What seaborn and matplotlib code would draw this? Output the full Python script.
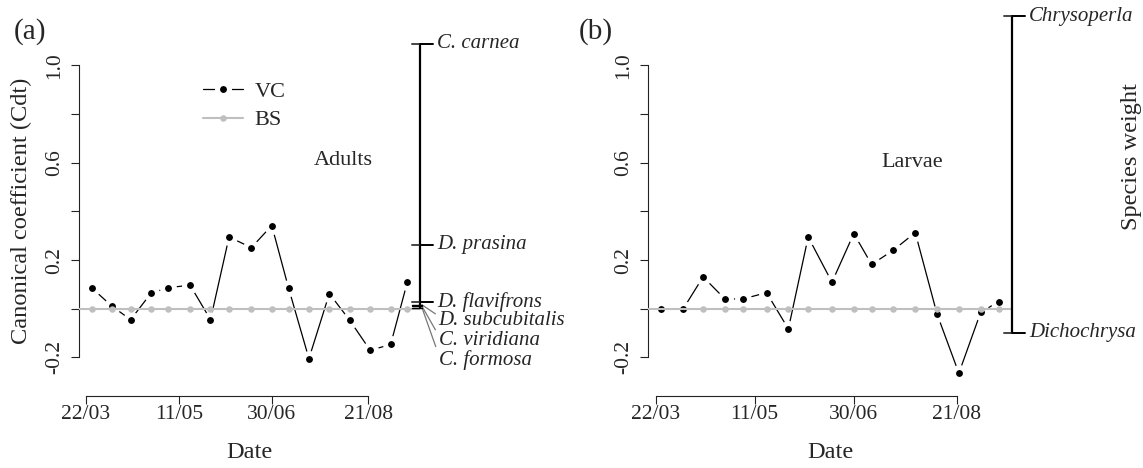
import matplotlib
matplotlib.use("Agg")
import matplotlib.pyplot as plt
from matplotlib.lines import Line2D
import numpy as np
import pandas as pd
import seaborn as sns

# ---- data -------------------------------------------------------------
# sampling dates as day of year
sample_day = [84, 95, 105, 116, 125, 137, 148, 158, 170, 181,
              190, 201, 212, 223, 234, 245, 254]

adults_vc = [0.086, 0.010, -0.045, 0.064, 0.086, 0.097, -0.045, 0.295, 0.251,
             0.342, 0.086, -0.205, 0.062, -0.048, -0.171, -0.147, 0.110]
adults_bs = [0.0] * 17

larvae_vc = [0.000, 0.000, 0.131, 0.040, 0.040, 0.066, -0.083, 0.295, 0.109,
             0.309, 0.182, 0.241, 0.313, -0.022, -0.265, -0.015, 0.029]
larvae_bs = [np.nan, np.nan] + [0.0] * 15

date_ticks = [81, 131, 181, 233]
date_labels = ["22/03", "11/05", "30/06", "21/08"]

y_ticks = [-0.2, 0.0, 0.2, 0.4, 0.6, 0.8, 1.0]
y_labels = ["-0.2", "", "0.2", "", "0.6", "", "1.0"]

adult_species = ["C. carnea", "D. prasina", "D. flavifrons",
                 "D. subcubitalis", "C. viridiana", "C. formosa"]
adult_weights = [1.090, 0.263, 0.029, 0.016, 0.010, 0.004]

larva_genera = ["Chrysoperla", "Dichochrysa"]
larva_weights = [1.203, -0.099]

# ---- style ------------------------------------------------------------
sns.set_style("ticks")
plt.rcParams["font.family"] = ["Liberation Serif", "DejaVu Serif"]

W, H = 1143, 468
fig = plt.figure(figsize=(W / 100, H / 100), dpi=100)

BLACK = "#000000"
GREY = "#bfbfbf"
TICK_FS = 15.5
TEXT_FS = 16
TITLE_FS = 17.6

VC_MS = 8.6
VC_MEW = 3.6

pos = {"a": [79 / W, 0.1844, 341 / W, 0.7017],
       "b": [648 / W, 0.1844, 364 / W, 0.7017]}


def base_axes(ax):
    x0 = min(sample_day)
    x1 = max(sample_day)
    pad = 0.04 * (x1 - x0)
    ax.set_xlim(x0 - pad, x1 + pad)
    ax.set_ylim(-0.3, 1.05)
    for s in ("top", "right"):
        ax.spines[s].set_visible(False)
    for s in ("left", "bottom"):
        ax.spines[s].set_linewidth(0.8)
        ax.spines[s].set_color("#222222")
    ax.spines["left"].set_bounds(y_ticks[0], y_ticks[-1])
    ax.spines["bottom"].set_bounds(date_ticks[0], date_ticks[-1])
    ax.spines["bottom"].set_position(("outward", 10))
    ax.set_xticks(date_ticks, labels=date_labels)
    ax.set_yticks(y_ticks, labels=y_labels)
    ax.tick_params(axis="both", direction="out", length=5.5, width=0.8,
                   color="#222222", labelsize=TICK_FS)
    ax.tick_params(axis="x", pad=1.5)
    ax.tick_params(axis="y", labelrotation=90, pad=5)
    for lbl in ax.get_yticklabels():
        lbl.set_va("center")
    ax.set_xlabel("Date", fontsize=TITLE_FS, labelpad=13)
    ax.set_ylabel("")
    ax.grid(False)


def draw_series(ax, vc, bs):
    df = pd.DataFrame({"day": sample_day, "vc": vc, "bs": bs})
    sns.lineplot(data=df, x="day", y="vc", ax=ax, color=BLACK, lw=0.9,
                 marker="o", markersize=VC_MS, markerfacecolor=BLACK,
                 markeredgecolor="white", markeredgewidth=VC_MEW,
                 zorder=2, legend=False)
    ax.axhline(0, color=GREY, lw=1.5, zorder=3)
    sns.scatterplot(data=df.dropna(), x="day", y="bs", ax=ax, color=GREY,
                    s=22, linewidth=0, zorder=4, legend=False)


def species_axis(ax, names, weights, axis_w_px, cluster=None):
    """Weight scale on the right edge, with species named at each tick."""
    tr = ax.get_yaxis_transform()
    ax.plot([1, 1], [min(weights), max(weights)], transform=tr,
            color=BLACK, lw=1.6, clip_on=False, solid_capstyle="butt",
            zorder=5)
    lpx = 8 / axis_w_px
    rpx = 13 / axis_w_px
    for i, (nm, w) in enumerate(zip(names, weights)):
        if cluster is not None and i >= cluster:
            ax.plot([1 - lpx, 1 + 2 / axis_w_px], [w, w], transform=tr,
                    color=BLACK, lw=1.0, clip_on=False, zorder=5)
            continue
        ax.plot([1 - lpx, 1], [w, w], transform=tr, color="#444444",
                lw=1.4, clip_on=False, zorder=5)
        ax.plot([1, 1 + rpx], [w, w], transform=tr, color=BLACK,
                lw=1.4, clip_on=False, zorder=5)
        ax.annotate(nm, xy=(1 + rpx, w), xycoords=tr, xytext=(3, 0),
                    textcoords="offset points", ha="left", va="center",
                    fontsize=15, fontstyle="italic", annotation_clip=False)
    if cluster is not None:
        # crowded weights: labels stacked below, joined by leader lines
        for k, i in enumerate(range(cluster, len(names))):
            w = weights[i]
            dy_pt = -(11.5 + 13.0 * k)
            ax.annotate(names[i], xy=(1 + 2 / axis_w_px, w), xycoords=tr,
                        xytext=(12, dy_pt), textcoords="offset points",
                        ha="left", va="center", fontsize=15,
                        fontstyle="italic", annotation_clip=False,
                        arrowprops=dict(arrowstyle="-", color="#777777",
                                        lw=0.9, shrinkA=0, shrinkB=0,
                                        relpos=(0.0, 0.75)))


# ---- panel (a): adults --------------------------------------------------
ax_a = fig.add_axes(pos["a"])
draw_series(ax_a, adults_vc, adults_bs)
base_axes(ax_a)
species_axis(ax_a, adult_species, adult_weights, 341, cluster=3)
ax_a.text(219.5, 0.61, "Adults", ha="center", va="center", fontsize=TEXT_FS)

handles = [
    Line2D([], [], color=BLACK, lw=0.9, marker="o", markersize=VC_MS,
           markerfacecolor=BLACK, markeredgecolor="white",
           markeredgewidth=VC_MEW),
    Line2D([], [], color=GREY, lw=1.5, marker="o", markersize=4.7,
           markerfacecolor=GREY, markeredgewidth=0),
]
ax_a.legend(handles, ["VC", "BS"], loc="upper left",
            bbox_to_anchor=(0.365, 0.915), frameon=False, fontsize=TEXT_FS,
            borderaxespad=0, borderpad=0, handlelength=1.8,
            handletextpad=0.5, labelspacing=0.36)

# ---- panel (b): larvae --------------------------------------------------
ax_b = fig.add_axes(pos["b"])
draw_series(ax_b, larvae_vc, larvae_bs)
base_axes(ax_b)
species_axis(ax_b, larva_genera, larva_weights, 364)
ax_b.text(210.5, 0.60, "Larvae", ha="center", va="center", fontsize=TEXT_FS)

# ---- shared annotations -------------------------------------------------
fig.text(21 / W, 1 - 211 / H, "Canonical coefficient (Cdt)", rotation=90,
         ha="center", va="center", fontsize=TITLE_FS)
fig.text(1131 / W, 1 - 157 / H, "Species weight", rotation=90,
         ha="center", va="center", fontsize=TITLE_FS)
fig.text(14 / W, 1 - 32 / H, "(a)", ha="left", va="center", fontsize=21)
fig.text(579 / W, 1 - 32 / H, "(b)", ha="left", va="center", fontsize=21)

fig.savefig("out.png", dpi=100, facecolor="white")
